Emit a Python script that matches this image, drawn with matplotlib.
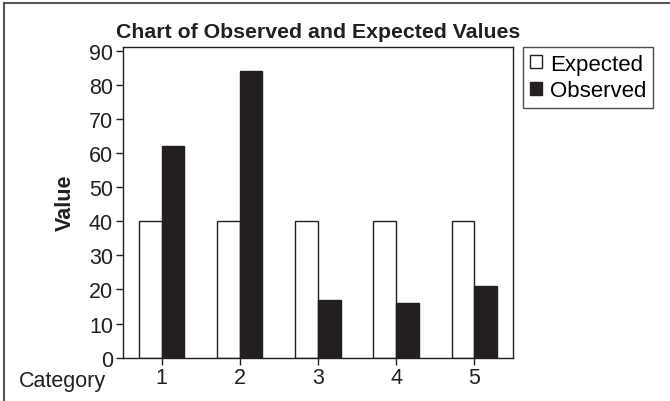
import matplotlib
matplotlib.use("Agg")
import matplotlib.pyplot as plt
import numpy as np
from matplotlib.patches import Patch
from matplotlib.lines import Line2D

# Данные диаграммы
categories = [1, 2, 3, 4, 5]
expected = [40, 40, 40, 40, 40]
observed = [62, 84, 17, 16, 21]
y_ticks = [0, 10, 20, 30, 40, 50, 60, 70, 80, 90]

plt.rcParams["font.family"] = ["Liberation Sans", "DejaVu Sans"]

ink = "#231f20"
width = 0.29

fig = plt.figure(figsize=(6.7, 4.02), dpi=100)
ax = fig.add_axes([0.183, 0.108, 0.583, 0.773])

x = np.array(categories)
ax.bar(x - width / 2, expected, width, color="white",
       edgecolor=ink, linewidth=1.0, label="Expected")
ax.bar(x + width / 2, observed, width, color=ink,
       edgecolor=ink, linewidth=1.0, label="Observed")

ax.set_xlim(0.5, 5.5)
ax.set_ylim(0, 91.2)
ax.set_xticks(categories)
ax.set_yticks(y_ticks)
ax.tick_params(axis="both", direction="out", length=5, width=1,
               color=ink, labelsize=15.5, labelcolor=ink, pad=2)
for s in ax.spines.values():
    s.set_color(ink)
    s.set_linewidth(1)

ax.set_title("Chart of Observed and Expected Values", fontsize=15.3,
             fontweight="bold", color=ink, pad=7)
ax.set_ylabel("Value", fontsize=15.5, fontweight="bold", color=ink,
              labelpad=9)
fig.text(0.028, 0.052, "Category", fontsize=15.5, color=ink,
         va="center", ha="left")

handles = [Patch(facecolor="white", edgecolor=ink, linewidth=1),
           Patch(facecolor=ink, edgecolor=ink, linewidth=1)]
leg = fig.legend(handles, ["Expected", "Observed"],
                 loc="upper left", bbox_to_anchor=(0.781, 0.881),
                 fontsize=16, frameon=True, fancybox=False,
                 handlelength=0.55, handleheight=0.55, handletextpad=0.35,
                 borderpad=0.3, labelspacing=0.25, borderaxespad=0)
leg.get_frame().set_edgecolor(ink)
leg.get_frame().set_linewidth(1)

# рамка рисунка сверху и слева
fig.add_artist(Line2D([0.006, 1], [0.99, 0.99], color="#555555", lw=1.5,
                      transform=fig.transFigure))
fig.add_artist(Line2D([0.006, 0.006], [0, 0.99], color="#555555", lw=1.5,
                      transform=fig.transFigure))

fig.savefig("out.png", dpi=100)
